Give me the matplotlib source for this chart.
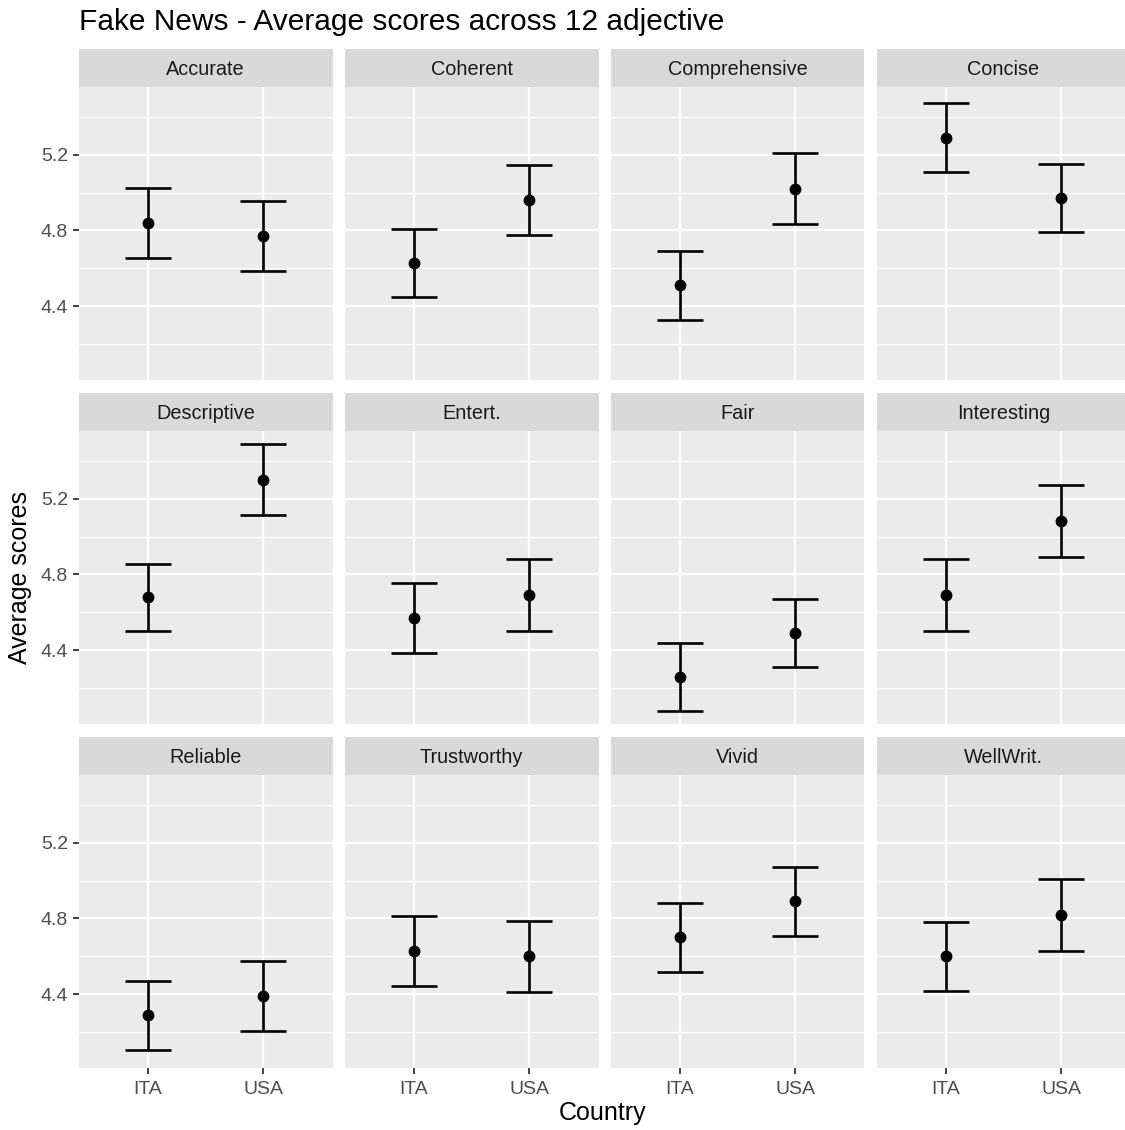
import matplotlib.pyplot as plt
import numpy as np

plt.rcParams['font.family'] = ['Liberation Sans', 'DejaVu Sans']

adjectives = ['Accurate', 'Coherent', 'Comprehensive', 'Concise',
              'Descriptive', 'Entert.', 'Fair', 'Interesting',
              'Reliable', 'Trustworthy', 'Vivid', 'WellWrit.']
countries = ['ITA', 'USA']
mean_ita = [4.84, 4.63, 4.51, 5.29, 4.68, 4.57, 4.26, 4.69, 4.29, 4.63, 4.70, 4.60]
mean_usa = [4.77, 4.96, 5.02, 4.97, 5.30, 4.69, 4.49, 5.08, 4.39, 4.60, 4.89, 4.82]
ci_ita = [0.185, 0.18, 0.183, 0.18, 0.177, 0.183, 0.178, 0.19, 0.183, 0.185, 0.183, 0.18]
ci_usa = [0.185, 0.185, 0.186, 0.18, 0.186, 0.19, 0.18, 0.19, 0.184, 0.185, 0.183, 0.19]
y_ticks = [4.4, 4.8, 5.2]
y_minor = [4.2, 4.6, 5.0, 5.4]

W, H = 1125, 1130
fig = plt.figure(figsize=(W / 100, H / 100), dpi=100)

# shared y range, ggplot-style 5% expansion
lo = min(min(np.subtract(mean_ita, ci_ita)), min(np.subtract(mean_usa, ci_usa)))
hi = max(max(np.add(mean_ita, ci_ita)), max(np.add(mean_usa, ci_usa)))
pad = (hi - lo) * 0.05
ylim = (lo - pad, hi + pad)

col_left = [78.5, 344.5, 610.5, 876.5]
panel_w = 254
row_strip_top = [49, 393, 737]
strip_h = 38
panel_h = 293


def px_rect(x0, y0, w, h):
    return [x0 / W, 1 - (y0 + h) / H, w / W, h / H]


for i, adj in enumerate(adjectives):
    r, c = divmod(i, 4)
    x0 = col_left[c]
    ys = row_strip_top[r]

    # facet strip
    sax = fig.add_axes(px_rect(x0, ys, panel_w, strip_h))
    sax.set_facecolor('#D9D9D9')
    sax.set_xticks([])
    sax.set_yticks([])
    for s in sax.spines.values():
        s.set_visible(False)
    sax.text(0.5, 0.45, adj, ha='center', va='center', fontsize=14.3,
             color='#1A1A1A', transform=sax.transAxes)

    ax = fig.add_axes(px_rect(x0, ys + strip_h, panel_w, panel_h))
    ax.set_facecolor('#EBEBEB')
    for s in ax.spines.values():
        s.set_visible(False)
    ax.set_xlim(0.4, 2.6)
    ax.set_ylim(*ylim)

    for yv in y_minor:
        ax.axhline(yv, color='white', lw=0.8, zorder=0)
    for yv in y_ticks:
        ax.axhline(yv, color='white', lw=1.6, zorder=0)
    for xv in (1, 2):
        ax.axvline(xv, color='white', lw=1.6, zorder=0)

    means = [mean_ita[i], mean_usa[i]]
    cis = [ci_ita[i], ci_usa[i]]
    ax.errorbar([1, 2], means, yerr=cis, fmt='none', ecolor='black',
                elinewidth=1.9, capsize=0, zorder=3)
    for xv, m, e in zip([1, 2], means, cis):
        ax.hlines([m - e, m + e], xv - 0.2, xv + 0.2, color='black',
                  lw=1.9, zorder=3)
    ax.plot([1, 2], means, 'o', color='black', ms=7.5, zorder=4)

    ax.set_xticks([1, 2])
    ax.set_yticks(y_ticks)
    ax.tick_params(length=4.5, width=1.3, color='#333333',
                   labelsize=14, labelcolor='#4D4D4D', pad=3)
    ax.tick_params(axis='x', pad=5)
    if r == 2:
        ax.set_xticklabels(countries)
    else:
        ax.tick_params(axis='x', length=0, labelbottom=False)
    if c == 0:
        ax.set_yticklabels([f'{v:.1f}' for v in y_ticks])
    else:
        ax.tick_params(axis='y', length=0, labelleft=False)

fig.text(79 / W, 1 - 30 / H, 'Fake News - Average scores across 12 adjective',
         ha='left', va='baseline', fontsize=21.5, color='black')
fig.text(603 / W, 1 - 1113 / H, 'Country', ha='center', va='center',
         fontsize=18, color='black')
fig.text(20 / W, 1 - 578 / H, 'Average scores', ha='center', va='center',
         rotation=90, fontsize=18, color='black')

fig.savefig('out.png', dpi=100, facecolor='white')
